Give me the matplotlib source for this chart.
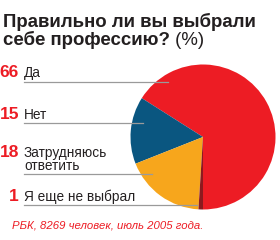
import matplotlib
matplotlib.use("Agg")
import matplotlib.pyplot as plt

# data
values = [66, 15, 18, 1]
numbers = ["66", "15", "18", "1"]
labels = ["Да", "Нет", "Затрудняюсь\nответить", "Я еще не выбрал"]
colors = ["#ED1C24", "#0A5680", "#F7A61C", "#8C1A1F"]

title_line1 = "Правильно ли вы выбрали"
title_line2 = "себе профессию?"
title_unit = " (%)"
source = "РБК, 8269 человек, июль 2005 года."

W, H = 280, 240
SANS = ["Liberation Sans", "DejaVu Sans"]
NARROW = ["Liberation Sans Narrow", "Liberation Sans", "DejaVu Sans"]
RED = "#ED1C24"
INK = "#231F20"

fig = plt.figure(figsize=(W / 100, H / 100), dpi=100)
fig.patch.set_facecolor("white")

# pie axes placed by pixel center / radius
cx, cy, r = 203, 137, 72.5
pie_ax = fig.add_axes([(cx - r) / W, (H - cy - r) / H, 2 * r / W, 2 * r / H])
pie_ax.pie(
    values,
    colors=colors,
    startangle=-90,
    counterclock=True,
    wedgeprops=dict(linewidth=0),
)
pie_ax.set_aspect("equal")
pie_ax.set_xlim(-1, 1)
pie_ax.set_ylim(-1, 1)
pie_ax.axis("off")

# overlay axes in pixel units for text and leader lines (on top of pie)
ax = fig.add_axes([0, 0, 1, 1], zorder=5)
ax.patch.set_alpha(0)
ax.set_xlim(0, W)
ax.set_ylim(H, 0)
ax.axis("off")

# title
ax.text(3, 27, title_line1, fontsize=13.4, fontweight="bold",
        family=SANS, color=INK, va="baseline")
t2 = ax.text(3, 45, title_line2, fontsize=13.4, fontweight="bold",
             family=SANS, color=INK, va="baseline")
ax.annotate(title_unit, xy=(1, 0), xycoords=t2, fontsize=13.4,
            family=SANS, color=INK, va="bottom")

# legend rows
row_y = [77, 119, 157, 201]
line_y = [82, 123, 174, 205]
line_end = [168, 143, 152, 197]
for num, lab, ry, ly, le in zip(numbers, labels, row_y, line_y, line_end):
    ax.text(19, ry, num, fontsize=12.5, fontweight="bold", family=NARROW,
            color=RED, ha="right", va="baseline")
    for k, part in enumerate(lab.split("\n")):
        ax.text(24, ry + 12.5 * k, part, fontsize=9.8, family=SANS,
                color=INK, va="baseline")
    ax.plot([24, le], [ly, ly], color="#9a9a9a", lw=0.9)

ax.text(12, 228.5, source, fontsize=8.2, style="italic", family=NARROW,
        color=RED, va="baseline")

fig.savefig("out.png", dpi=100, facecolor="white")
